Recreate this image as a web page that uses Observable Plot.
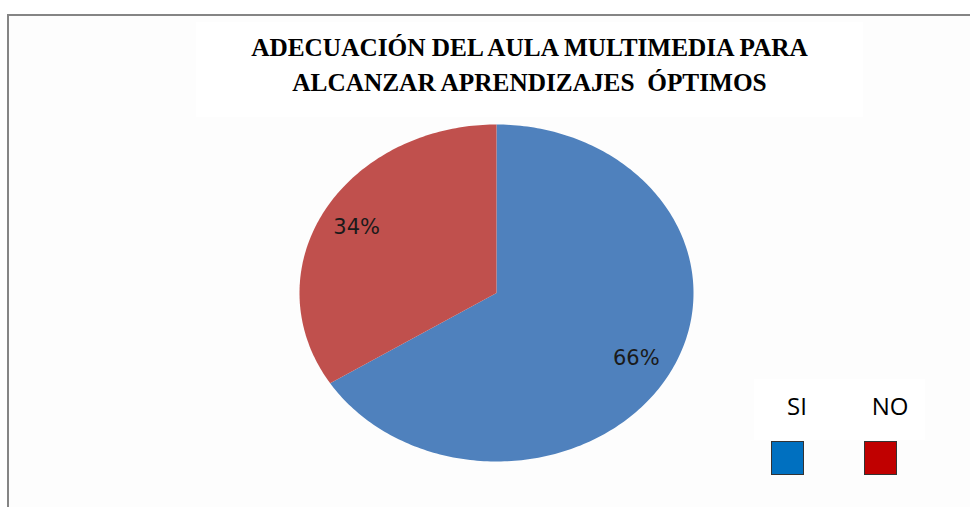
<!DOCTYPE html>
<html>
<head>
<meta charset="utf-8">
<script src="https://cdn.jsdelivr.net/npm/d3@7"></script>
<script src="https://cdn.jsdelivr.net/npm/@observablehq/plot@0.6"></script>
<style>
  html, body { margin: 0; padding: 0; background: #ffffff; overflow: hidden; }
  #wrap { position: relative; width: 970px; height: 507px; }
  #frame { position: absolute; left: 7px; top: 14px; width: 1000px; height: 600px;
           border-left: 2px solid #858585; border-top: 2px solid #858585; background: #fdfdfd; }
  #titlebox { position: absolute; left: 196px; top: 22px; width: 667px; height: 95px; background: #ffffff; }
  .tline { position: absolute; left: 196px; width: 667px; text-align: center;
           font-family: "Liberation Serif", "Times New Roman", serif; font-weight: bold;
           font-size: 25.3px; color: #000; white-space: pre; line-height: 1; }
  #legbox { position: absolute; left: 754px; top: 379px; width: 171px; height: 61px; background: #ffffff; }
  .ltext { position: absolute; font-family: "Open Sans", sans-serif; font-size: 24px; color: #000;
           line-height: 1; transform: translateX(-50%); }
  .sw { position: absolute; width: 31px; height: 32px; border: 1px solid #333; }
  #chart { position: absolute; left: 0; top: 0; }
</style>
</head>
<body>
<div id="wrap">
  <div id="frame"></div>
  <div id="titlebox"></div>
  <div class="tline" id="t1" style="top:35px"></div>
  <div class="tline" id="t2" style="top:70px"></div>
  <div id="legbox"></div>
  <div id="chart"></div>
  <div id="legend"></div>
</div>
<script>
// ---- data ----
const categories = ["SI", "NO"];
const values = [66, 34];
const labels = ["66%", "34%"];
const sliceColors = ["#4F81BD", "#C0504D"];
const legendColors = ["#0070C0", "#C00000"];
const titleLines = ["ADECUACIÓN DEL AULA MULTIMEDIA PARA", "ALCANZAR APRENDIZAJES  ÓPTIMOS"];

document.getElementById("t1").textContent = titleLines[0];
document.getElementById("t2").textContent = titleLines[1];

// ---- pie geometry (unit circle, stretched to ellipse by x/y scales) ----
const total = d3.sum(values);
let acc = 0;
const slices = categories.map((c, i) => {
  const f0 = acc / total;
  acc += values[i];
  const f1 = acc / total;
  return { cat: c, f0, f1, value: values[i], label: labels[i], color: sliceColors[i] };
});

const polyPts = [];
slices.forEach(s => {
  polyPts.push({ cat: s.cat, x: 0, y: 0 });
  const n = Math.max(2, Math.ceil((s.f1 - s.f0) * 360));
  for (let k = 0; k <= n; k++) {
    const a = 2 * Math.PI * (s.f0 + (s.f1 - s.f0) * k / n);
    polyPts.push({ cat: s.cat, x: Math.sin(a), y: Math.cos(a) });
  }
  polyPts.push({ cat: s.cat, x: 0, y: 0 });
});

const labelPts = slices.map(s => {
  const a = 2 * Math.PI * (s.f0 + s.f1) / 2;
  return { label: s.label, x: 0.81 * Math.sin(a), y: 0.81 * Math.cos(a) };
});

const plot = Plot.plot({
  width: 970,
  height: 507,
  margin: 0,
  style: { background: "transparent", overflow: "visible" },
  x: { domain: [-1, 1], range: [299, 693], axis: null },
  y: { domain: [-1, 1], range: [461, 124], axis: null },
  color: { domain: categories, range: sliceColors },
  marks: [
    Plot.line(polyPts, { x: "x", y: "y", z: "cat", fill: "cat", stroke: "none", curve: "linear" }),
    Plot.text(labelPts, { x: "x", y: "y", text: "label", fill: "#1a1a1a",
      fontFamily: "DejaVu Sans", fontSize: 21 })
  ]
});
document.getElementById("chart").appendChild(plot);

// ---- legend ----
const legend = document.getElementById("legend");
const legX = [797, 890];
categories.forEach((c, i) => {
  const t = document.createElement("div");
  t.className = "ltext";
  t.style.left = legX[i] + "px";
  t.style.top = "394px";
  t.textContent = c;
  legend.appendChild(t);
  const sw = document.createElement("div");
  sw.className = "sw";
  sw.style.left = (legX[i] - 26.5) + "px";
  sw.style.top = "441px";
  sw.style.background = legendColors[i];
  legend.appendChild(sw);
});
</script>
</body>
</html>
